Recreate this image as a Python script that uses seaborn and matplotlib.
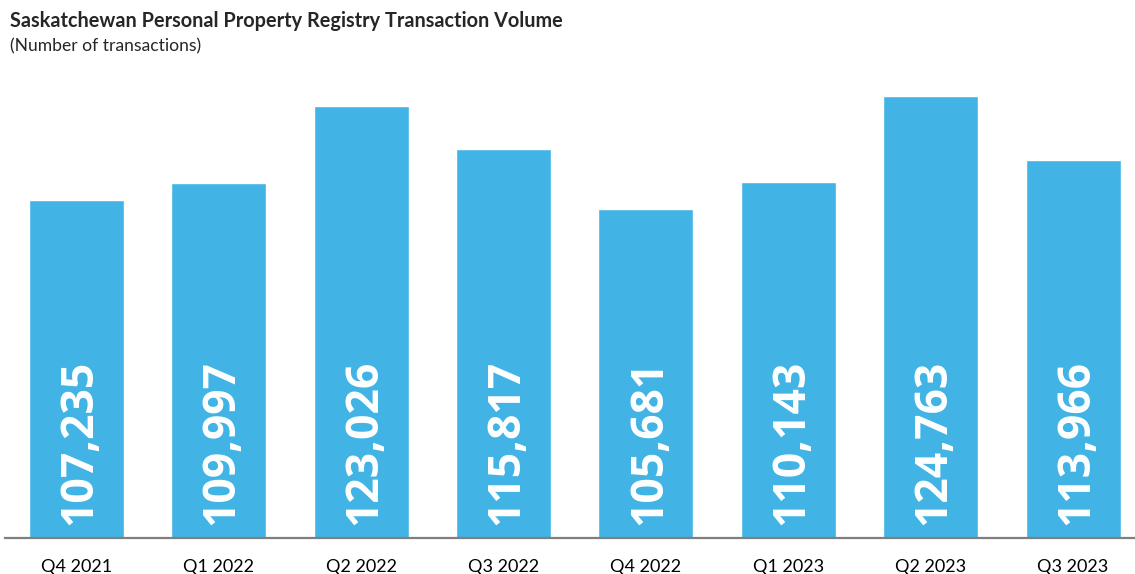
import matplotlib
matplotlib.use("Agg")
import matplotlib.pyplot as plt
import seaborn as sns

quarters = ["Q4 2021", "Q1 2022", "Q2 2022", "Q3 2022",
            "Q4 2022", "Q1 2023", "Q2 2023", "Q3 2023"]
volumes = [107235, 109997, 123026, 115817, 105681, 110143, 124763, 113966]

bar_color = "#41B4E5"

sns.set_style("white")
plt.rcParams["font.family"] = ["Lato", "DejaVu Sans"]

fig = plt.figure(figsize=(11.35, 5.74), dpi=100)
ax = fig.add_axes([5.3 / 1135, 36 / 574, (1135 - 5.3) / 1135, 473 / 574])

sns.barplot(x=quarters, y=volumes, color=bar_color, saturation=1,
            width=0.667, ax=ax)

ax.set_ylim(50000, 130000)
ax.set_xlim(-0.5, 7.435)

# value labels sitting at the bottom of each bar
for p, v in zip(ax.patches, volumes):
    xc = p.get_x() + p.get_width() / 2
    ax.annotate(f"{v:,}", xy=(xc, 50000), xytext=(2.5, 9.5),
                textcoords="offset points", rotation=90,
                ha="center", va="bottom", color="white",
                fontsize=32, fontweight="bold",
                family=["Open Sans", "DejaVu Sans"])

sns.despine(ax=ax, left=True, top=True, right=True)
ax.spines["bottom"].set_color("#7f7f7f")
ax.spines["bottom"].set_linewidth(1.6)
ax.set_yticks([])
ax.tick_params(axis="x", length=0, pad=15, labelsize=13, colors="black")
ax.set_xlabel("")
ax.set_ylabel("")

fig.text(10 / 1135, 1 - 27 / 574, "Saskatchewan Personal Property Registry Transaction Volume",
         fontsize=14.3, fontweight="bold", ha="left", va="baseline")
fig.text(10 / 1135, 1 - 51 / 574, "(Number of transactions)",
         fontsize=12.6, ha="left", va="baseline")

fig.savefig("out.png", dpi=100)
